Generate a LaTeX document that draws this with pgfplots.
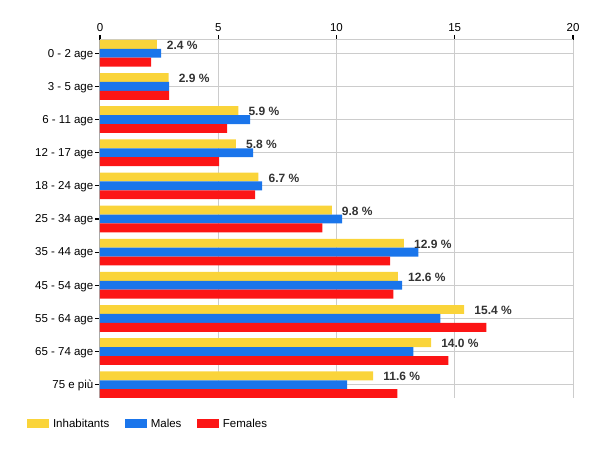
\documentclass[border=0pt]{standalone}
\usepackage{fontspec}
\setmainfont{Liberation Sans}
\usepackage{pgfplots}
\pgfplotsset{compat=1.18}
\definecolor{cyel}{RGB}{250,212,58}
\definecolor{cblu}{RGB}{26,117,235}
\definecolor{cred}{RGB}{252,21,21}
\definecolor{cgrid}{RGB}{204,204,204}
\definecolor{caxis}{RGB}{170,170,170}
\definecolor{clab}{RGB}{51,51,51}
\begin{document}
\begin{tikzpicture}
\path[use as bounding box] (0,0) rectangle (600pt,450pt);
\begin{axis}[
  at={(100pt,52pt)}, anchor=south west,
  scale only axis, width=473pt, height=358pt,
  xbar, bar width=8.9pt,
  xmin=0, xmax=20, ymin=-0.4, ymax=10.4,
  xtick={0,5,10,15,20},
  ytick={0,1,2,3,4,5,6,7,8,9,10},
  yticklabels={75 e più,65 - 74 age,55 - 64 age,45 - 54 age,35 - 44 age,25 - 34 age,18 - 24 age,12 - 17 age,6 - 11 age,3 - 5 age,0 - 2 age},
  axis x line*=top, axis y line*=left,
  x axis line style={cgrid, line width=1pt},
  y axis line style={caxis, line width=1pt},
  xmajorgrids, ymajorgrids,
  major grid style={cgrid, line width=1pt},
  tick align=outside, major tick length=5pt,
  xtick style={draw=black, line width=1.2pt},
  ytick style={draw=black, line width=1.2pt},
  /pgf/number format/assume math mode=true,
  tick label style={font=\fontsize{11.5}{13}\selectfont, text=black},
  yticklabel style={inner sep=1.5pt, yshift=-1pt},
  legend columns=3,
  legend image code/.code={\fill[#1] (0pt,-4.5pt) rectangle (22pt,4.5pt);},
  legend style={at={(axis description cs:-0.1543,-0.0726)}, anchor=west,
    draw=none, fill=none, inner sep=0pt, outer sep=0pt,
    font=\fontsize{11.5}{13}\selectfont,
    nodes={inner sep=2.5pt},
    /tikz/every odd column/.append style={column sep=1.5pt},
    /tikz/every even column/.append style={column sep=13pt}},
]
\addplot[draw=none, fill=cyel, bar shift=8.9pt,
  point meta=explicit symbolic,
  nodes near coords={\pgfplotspointmeta\ \%},
  nodes near coords style={font=\bfseries\fontsize{12}{14}\selectfont, text=clab, anchor=west, inner sep=0pt, xshift=10pt, yshift=-1pt}]
  coordinates {
  (2.4,10) [2.4]
  (2.9,9) [2.9]
  (5.85,8) [5.9]
  (5.75,7) [5.8]
  (6.7,6) [6.7]
  (9.8,5) [9.8]
  (12.85,4) [12.9]
  (12.6,3) [12.6]
  (15.4,2) [15.4]
  (14.0,1) [14.0]
  (11.55,0) [11.6]
  };
\addlegendentry{Inhabitants}
\addplot[draw=none, fill=cblu, bar shift=0pt]
  coordinates {
  (2.58,10)
  (2.92,9)
  (6.35,8)
  (6.47,7)
  (6.86,6)
  (10.24,5)
  (13.46,4)
  (12.78,3)
  (14.39,2)
  (13.25,1)
  (10.45,0)
  };
\addlegendentry{Males}
\addplot[draw=none, fill=cred, bar shift=-8.9pt]
  coordinates {
  (2.16,10)
  (2.92,9)
  (5.37,8)
  (5.04,7)
  (6.56,6)
  (9.40,5)
  (12.27,4)
  (12.40,3)
  (16.34,2)
  (14.73,1)
  (12.57,0)
  };
\addlegendentry{Females}
\end{axis}
\end{tikzpicture}
\end{document}
